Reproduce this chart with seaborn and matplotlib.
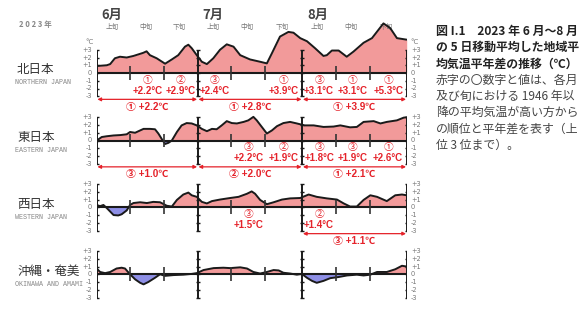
import numpy as np
import matplotlib
matplotlib.use("Agg")
import matplotlib.pyplot as plt
import seaborn as sns

sns.set_style("white")
plt.rcParams["font.family"] = ["Noto Sans CJK JP", "DejaVu Sans"]

W, H = 586, 330

# ---- 5-day running mean anomalies (°C); day 0 = start of 1 June, 92 = end of 31 August
north_days = [0, 3, 4, 5.4, 6.9, 8.9, 10.9, 13.8, 14.8, 15.8, 17.8, 20.3, 22.3, 24.2,
              26.2, 27.2, 28.2, 29.7, 31.2, 32.7, 34.6, 36.6, 38.6, 40.6, 42.6, 45.5,
              48.5, 50.5, 52, 54.4, 56.9, 58.4, 60.4, 62.4, 64.8, 67.3, 68.3, 69.8,
              71.8, 74.2, 76.2, 79.2, 81.7, 85.1, 87.1, 89.1, 92]
north_vals = [0.9, 1.0, 1.15, 1.9, 2.1, 2.0, 2.2, 2.6, 2.8, 2.3, 1.9, 1.2, 1.75, 2.3,
              3.4, 3.65, 3.2, 2.3, 1.45, 1.15, 1.9, 3.0, 3.7, 3.4, 2.3, 1.75,
              1.45, 1.24, 2.55, 4.7, 5.3, 5.2, 4.5, 4.1, 3.2, 2.2, 2.3, 2.9,
              2.9, 2.1, 2.76, 3.9, 4.5, 6.4, 5.8, 4.5, 4.3]

east_days = [0, 1.5, 3, 5, 7, 8.9, 9.9, 11.4, 12.4, 13.9, 15.8, 17.3, 18.3, 19.3, 20.3,
             21.3, 22.3, 23.8, 25.2, 26.7, 28.2, 29.7, 31.2, 32.7, 34.2, 35.6, 37.1,
             38.6, 40.1, 41.6, 43.6, 45, 46.5, 47.5, 49, 50.5, 52, 53.5, 55.4, 57.4,
             59.4, 61.7, 64.4, 67.3, 70.3, 72.3, 75.2, 77.2, 79.2, 82.2, 84.2, 86.1,
             89.1, 91.1, 92]
east_vals = [0.0, 0.45, 0.55, 0.65, 0.7, 0.8, 1.1, 1.0, 1.2, 1.5, 1.5, 1.45, 0.9, 0.2, -0.45,
             -0.3, 0.0, 1.1, 1.95, 2.25, 2.2, 1.95, 1.5, 1.2, 1.5, 1.45, 1.95,
             2.5, 2.25, 2.2, 2.4, 2.6, 3.05, 2.6, 1.75, 0.9, 1.3, 1.85, 2.25, 2.4,
             2.2, 1.95, 1.95, 1.75, 1.8, 1.95, 1.7, 1.75, 2.4, 2.5, 2.2, 2.4,
             2.6, 2.95, 3.0]

west_days = [0, 1, 2, 3, 4, 5, 6.4, 7.4, 8.9, 9.9, 10.9, 12.9, 14.9, 16.8, 18.8, 20.8,
             22.3, 23.8, 25.7, 27.2, 28.2, 29.7, 31.2, 32.7, 34.2, 36.6, 39.6, 42.1,
             44.6, 46, 47, 48.5, 50.5, 52.5, 55, 57.4, 60.4, 62.9, 65.3, 68.3, 71.3,
             73.3, 75.2, 77.2, 79.2, 81.2, 83.2, 86.1, 88.6, 90.6, 92]
west_vals = [0.3, 0.15, 0.3, -0.1, -0.55, -1.0, -1.05, -0.9, -0.4, 0.3, 0.55, 0.65, 0.55,
             0.7, 0.65, 0.2, 0.1, 0.95, 1.65, 1.9, 1.55, 1.35, 0.7, 0.5, 0.8, 1.0, 1.2,
             1.35, 1.75, 2.05, 1.75, 0.95, 0.4, 0.65, 1.0, 1.15, 1.2, 1.65, 1.35, 1.15,
             1.0, 0.5, 0.1, 0.1, 0.95, 1.55, 1.35, 0.8, 1.55, 1.65, 1.55]

oki_days = [0, 1, 2.5, 4, 5.9, 7.4, 8.4, 9.9, 11.4, 12.9, 13.9, 15.3, 17.3, 18.8, 20.3,
            22.8, 25.7, 28.2, 29.7, 31.7, 34.7, 37.6, 39.6, 42.6, 44.6, 46.5, 48.5,
            50.5, 52.5, 54, 55.4, 57.4, 59.4, 60.9, 62.4, 63.9, 65.3, 67.3, 69.3,
            71.8, 74.3, 77.2, 79.2, 81.2, 83.2, 86.1, 88.6, 90.6, 92]
oki_vals = [0.75, 0.3, 0.15, 0.3, 0.75, 0.85, 0.75, 0.0, -0.65, -1.1, -1.3, -1.0, -0.45,
            0.0, -0.2, -0.1, -0.05, 0.05, 0.15, 0.55, 0.8, 0.85, 0.8, 0.9, 0.75, 0.3,
            0.1, 0.3, 0.55, 0.5, 0.2, 0.1, -0.05, 0.05, -0.45, -0.85, -1.1, -0.85,
            -0.5, -0.35, -0.15, -0.05, -0.15, -0.05, 0.3, 0.3, 0.65, 1.1, 1.0]

# ---- ranks (since 1946) and anomalies for each dekad (Jun 上中下, Jul 上中下, Aug 上中下)
north_dekad_rank = [None, 1, 2, 3, None, 1, 3, 1, 1]
north_dekad_anom = [None, 2.2, 2.9, 2.4, None, 3.9, 3.1, 3.1, 5.3]
east_dekad_rank = [None, None, None, None, 3, 2, 3, 3, 1]
east_dekad_anom = [None, None, None, None, 2.2, 1.9, 1.8, 1.9, 2.6]
west_dekad_rank = [None, None, None, None, 3, None, 2, None, None]
west_dekad_anom = [None, None, None, None, 1.5, None, 1.4, None, None]
oki_dekad_rank = [None] * 9
oki_dekad_anom = [None] * 9

# ---- ranks and anomalies for each month (Jun, Jul, Aug)
north_month_rank = [1, 1, 1]
north_month_anom = [2.2, 2.8, 3.9]
east_month_rank = [3, 2, 1]
east_month_anom = [1.0, 2.0, 2.1]
west_month_rank = [None, None, 3]
west_month_anom = [None, None, 1.1]
oki_month_rank = [None, None, None]
oki_month_anom = [None, None, None]

region_names = ["北日本", "東日本", "西日本", "沖縄・奄美"]
region_names_en = ["NORTHERN JAPAN", "EASTERN JAPAN", "WESTERN JAPAN", "OKINAWA AND AMAMI"]
month_labels = ["6月", "7月", "8月"]
dekad_labels = ["上旬", "中旬", "下旬"]
month_edges = [0, 30, 61, 92]
dekad_ticks = [10, 20, 40, 50, 71, 81]
dekad_centers = [5, 15, 25, 35, 45, 55.5, 66, 76, 86.5]
circled = {1: "①", 2: "②", 3: "③"}

caption_bold = ["図 I.1　2023 年 6 月～8 月",
                "の 5 日移動平均した地域平",
                "均気温平年差の推移（℃）"]
caption_body = ["赤字の〇数字と値は、各月",
                "及び旬における 1946 年以",
                "降の平均気温が高い方から",
                "の順位と平年差を表す（上",
                "位 3 位まで）。"]

RED = "#e5222a"
FILL_POS = "#f29a9a"
FILL_NEG = "#8e8fe6"
GRAY = "#777777"

# ---- layout (pixels)
X0, X1 = 96.7, 406.7
UNIT = 7.75
zero_px = [73.0, 140.5, 207.3, 274.3]
Y_LO, Y_HI = -5, 7

fig = plt.figure(figsize=(W / 100, H / 100), dpi=100)
fig.patch.set_facecolor("white")


def fpos(x, y):
    return x / W, 1 - y / H


panels = [
    (north_days, north_vals, north_dekad_rank, north_dekad_anom, north_month_rank, north_month_anom),
    (east_days, east_vals, east_dekad_rank, east_dekad_anom, east_month_rank, east_month_anom),
    (west_days, west_vals, west_dekad_rank, west_dekad_anom, west_month_rank, west_month_anom),
    (oki_days, oki_vals, oki_dekad_rank, oki_dekad_anom, oki_month_rank, oki_month_anom),
]

lab_font = ["Liberation Sans", "Noto Sans CJK JP", "DejaVu Sans"]

for i, (days, vals, drank, danom, mrank, manom) in enumerate(panels):
    z = zero_px[i]
    top = z - Y_HI * UNIT
    bottom = z - Y_LO * UNIT
    ax = fig.add_axes([X0 / W, 1 - bottom / H, (X1 - X0) / W, (bottom - top) / H])
    ax.patch.set_alpha(0)
    d = np.array(days, dtype=float)
    v = np.array(vals, dtype=float)

    ax.fill_between(d, v, 0, where=v >= 0, interpolate=True, color=FILL_POS, lw=0, zorder=1)
    ax.fill_between(d, v, 0, where=v <= 0, interpolate=True, color=FILL_NEG, lw=0, zorder=1)
    sns.lineplot(x=d, y=v, ax=ax, color="#1a1a1a", linewidth=1.4, zorder=4)

    # zero line
    ax.hlines(0, 0, 92, color="#1a1a1a", lw=1.5, zorder=3)
    # axes and month boundaries with cross ticks
    for xe in month_edges:
        ax.vlines(xe, -3, 3, color="#1a1a1a", lw=1.4, zorder=5)
        ax.hlines(range(-3, 4), xe - 0.6, xe + 0.6, color="#1a1a1a", lw=1.0, zorder=5)
    # dekad boundaries
    ax.vlines(dekad_ticks, -0.9, 0.9, color="#333333", lw=1.2, zorder=5)

    # tick labels
    for t in range(-3, 4):
        s = "0" if t == 0 else f"{t:+d}"
        ax.text(-1.3, t, s, ha="right", va="center", fontsize=4.8, color=GRAY,
                family="DejaVu Sans")
        ax.text(93.3, t, s, ha="left", va="center", fontsize=4.8, color=GRAY,
                family="DejaVu Sans")

    # dekad rank / anomaly
    for c, r, a in zip(dekad_centers, drank, danom):
        if r is None:
            continue
        ax.text(c, -0.85, circled[r], ha="center", va="center", fontsize=7.0,
                color=RED, family=lab_font)
        ax.text(c, -2.3, f"+{a:.1f}°C", ha="center", va="center", fontsize=7.0,
                color=RED, fontweight="bold", family=lab_font)

    # monthly rank / anomaly with arrows
    for m, (r, a) in enumerate(zip(mrank, manom)):
        if r is None:
            continue
        a0, a1 = month_edges[m], month_edges[m + 1]
        ax.annotate("", xy=(a0 + 0.2, -3.4), xytext=(a1 - 0.2, -3.4),
                    arrowprops=dict(arrowstyle="<|-|>", color=RED, lw=0.9,
                                    mutation_scale=5, shrinkA=0, shrinkB=0),
                    annotation_clip=False)
        ax.text((a0 + a1) / 2, -4.35, f"{circled[r]} +{a:.1f}℃", ha="center",
                va="center", fontsize=7.2, color=RED, fontweight="bold", family=lab_font)

    if i == 0:
        ax.text(-1.0, 4.0, "°C", ha="right", va="center", fontsize=5, color=GRAY,
                family="DejaVu Sans")
        ax.text(93.0, 4.0, "°C", ha="left", va="center", fontsize=5, color=GRAY,
                family="DejaVu Sans")
        for m in range(3):
            ax.text(month_edges[m] + 4.5, 7.55, month_labels[m], ha="center",
                    va="center", fontsize=9.5, color="#444444", fontweight="bold")
            for k in range(3):
                ax.text(dekad_centers[m * 3 + k] - 0.5, 5.95, dekad_labels[k],
                        ha="center", va="center", fontsize=4.8, color=GRAY)

    ax.set_xlim(0, 92)
    ax.set_ylim(Y_LO, Y_HI)
    ax.axis("off")

    # region names
    fig.text(*fpos(17, z - 3), region_names[i], ha="left", va="center",
             fontsize=9.0, color="#333333")
    fig.text(*fpos(15, z + 10), region_names_en[i], ha="left", va="center",
             fontsize=4.9, color="#888888", family="Liberation Mono")

fig.text(*fpos(35, 24), "2 0 2 3 年", ha="center", va="center", fontsize=5.5,
         color="#888888", fontweight="bold")

for j, line in enumerate(caption_bold + caption_body):
    fig.text(*fpos(436, 31.7 + 16.2 * j), line, ha="left", va="center",
             fontsize=8.6, color="#222222" if j < 3 else "#444444",
             fontweight="bold" if j < 3 else "normal")

fig.savefig("out.png", dpi=100, facecolor="white")
